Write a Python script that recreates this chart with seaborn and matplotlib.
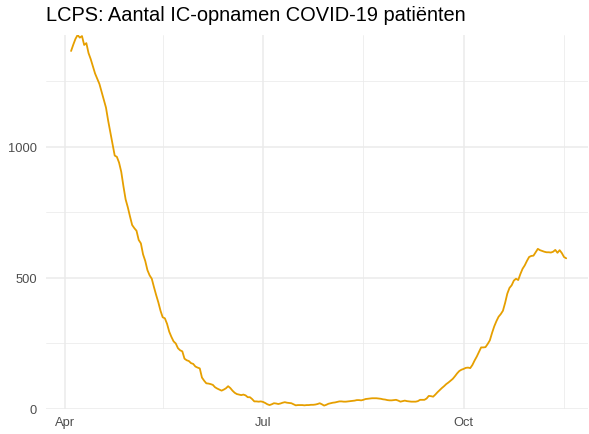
import numpy as np
import pandas as pd
import matplotlib
matplotlib.use("Agg")
import matplotlib.pyplot as plt
import matplotlib.dates as mdates
import matplotlib.ticker as mticker
import seaborn as sns

# IC-opnamen per dag, 4 april t/m 17 november 2020
start_date = "2020-04-04"
ic_patients = [
    1366, 1390, 1412, 1427, 1417, 1423, 1389, 1396, 1358, 1335,
    1308, 1280, 1260, 1240, 1210, 1180, 1150, 1100, 1055, 1008,
    967, 962, 940, 905, 850, 800, 770, 735, 702, 690,
    680, 645, 632, 590, 565, 530, 510, 497, 465, 435,
    407, 375, 350, 346, 325, 295, 275, 258, 250, 232,
    224, 220, 192, 186, 183, 175, 172, 162, 158, 155,
    120, 108, 98, 97, 95, 92, 83, 78, 74, 70,
    74, 79, 87, 80, 70, 62, 57, 55, 53, 55,
    52, 45, 45, 38, 29, 29, 28, 29, 27, 23,
    18, 15, 18, 22, 21, 19, 21, 24, 26, 24,
    23, 22, 18, 14, 15, 15, 15, 14, 15, 15,
    16, 16, 17, 19, 22, 18, 13, 16, 20, 22,
    24, 25, 27, 29, 29, 28, 28, 29, 30, 31,
    32, 34, 34, 33, 35, 38, 39, 40, 41, 41,
    41, 40, 39, 37, 36, 34, 33, 33, 34, 35,
    32, 28, 30, 32, 30, 29, 28, 28, 28, 30,
    35, 35, 35, 40, 50, 49, 47, 55, 64, 72,
    80, 87, 95, 101, 108, 115, 125, 136, 145, 150,
    153, 157, 158, 156, 168, 185, 200, 218, 235, 235,
    236, 248, 262, 290, 315, 335, 352, 362, 375, 405,
    440, 462, 472, 490, 497, 492, 515, 535, 548, 565,
    580, 584, 585, 598, 611, 606, 603, 600, 598, 598,
    597, 600, 607, 596, 606, 595, 580, 575,
]
major_dates = ["2020-04-01", "2020-07-01", "2020-10-01"]
major_labels = ["Apr", "Jul", "Oct"]
minor_dates = ["2020-05-16", "2020-08-16", "2020-11-16"]
y_major = [0, 500, 1000]
y_minor = [250, 750, 1250]

df = pd.DataFrame({
    "datum": pd.date_range(start=start_date, periods=len(ic_patients), freq="D"),
    "ic": ic_patients,
})

sns.set_theme(style="white")
plt.rcParams["font.family"] = ["Liberation Sans", "DejaVu Sans"]

fig = plt.figure(figsize=(5.89, 4.35), dpi=100)
ax = fig.add_axes([46 / 589, 1 - 410 / 435, 542 / 589, 374 / 435])

sns.lineplot(data=df, x="datum", y="ic", color="#E69F00", linewidth=1.3, ax=ax)

x0 = pd.Timestamp(major_dates[0])
ax.set_xlim(x0 - pd.Timedelta(days=8.5), x0 + pd.Timedelta(days=240))
ax.set_ylim(0, max(ic_patients))

ax.xaxis.set_major_locator(mticker.FixedLocator(mdates.date2num(pd.to_datetime(major_dates))))
ax.xaxis.set_major_formatter(mticker.FixedFormatter(major_labels))
ax.xaxis.set_minor_locator(mticker.FixedLocator(mdates.date2num(pd.to_datetime(minor_dates))))
ax.yaxis.set_major_locator(mticker.FixedLocator(y_major))
ax.yaxis.set_minor_locator(mticker.FixedLocator(y_minor))

ax.grid(which="major", color="#EBEBEB", linewidth=1.1)
ax.grid(which="minor", color="#EBEBEB", linewidth=0.55)
ax.set_axisbelow(True)
for side in ax.spines.values():
    side.set_visible(False)

ax.tick_params(axis="both", which="both", length=0, labelsize=9.3, labelcolor="#4D4D4D")
ax.tick_params(axis="y", pad=6.5)
ax.tick_params(axis="x", pad=5)
ax.set_xlabel("")
ax.set_ylabel("")

ax.set_title("LCPS: Aantal IC-opnamen COVID-19 patiënten", loc="left",
             fontsize=14.4, color="black", pad=11)

fig.savefig("out.png", dpi=100, facecolor="white")
